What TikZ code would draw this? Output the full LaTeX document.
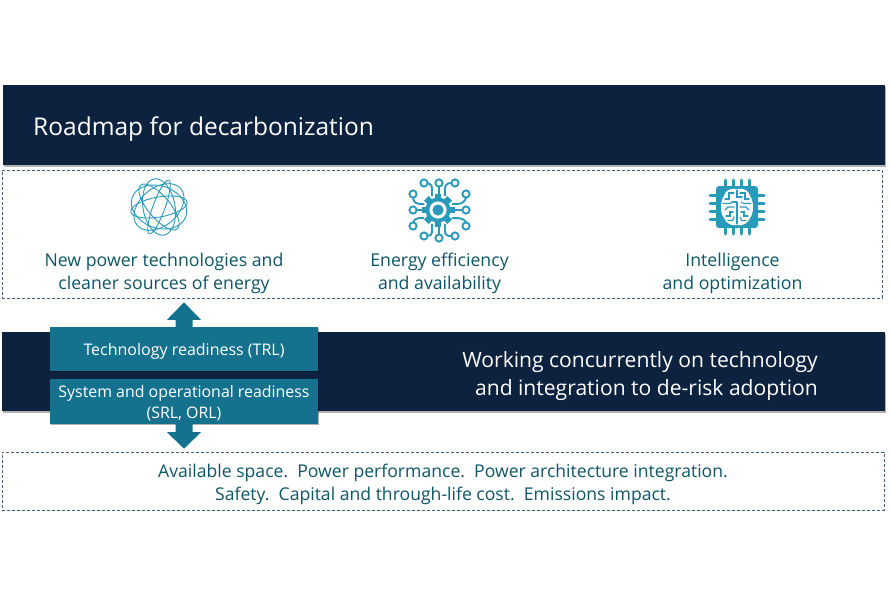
\documentclass[tikz,border=0pt]{standalone}
\usepackage{fontspec}
\setmainfont{Open Sans}
\usetikzlibrary{shadows,calc}
\definecolor{navy}{HTML}{0C223F}
\definecolor{tealbox}{HTML}{14728F}
\definecolor{tealtext}{HTML}{0E5566}
\definecolor{iconc}{HTML}{2A9ABA}
\definecolor{dashc}{HTML}{3F5F7F}
\tikzset{
 x=1pt,y=-1pt,
 navybar/.style={fill=navy,draw=none,drop shadow={shadow xshift=0.8pt,shadow yshift=-1.6pt,opacity=.3,fill=black}},
 dashbox/.style={draw=dashc,densely dashed,line width=.5pt},
 tealrect/.style={fill=tealbox,draw=none,drop shadow={shadow xshift=1.2pt,shadow yshift=-1.2pt,opacity=.3,fill=black}},
 bodytext/.style={text=tealtext,font=\fontsize{17.7pt}{23pt}\selectfont,align=center,inner sep=0pt},
 whitetext/.style={text=white,inner sep=0pt},
 ring/.style={draw=iconc,line width=1.9pt,fill=white},
 wire/.style={draw=iconc,line width=1.9pt},
 brainline/.style={draw=iconc,line width=1.1pt,line cap=round},
 globeline/.style={draw=iconc,line width=.9pt},
 pin/.style={draw=iconc,line width=3pt,line cap=round},
}
\begin{document}
\begin{tikzpicture}
\useasboundingbox (0,0) rectangle (890,592);
\fill[white] (0,0) rectangle (890,592);
% bars
\path[navybar] (3,85) rectangle (885,165);
\node[whitetext,anchor=base west,font=\fontsize{24.5pt}{28pt}\selectfont] (title) at (33,135) {Roadmap for decarbonization};
\node[dashbox,minimum width=880pt,minimum height=128pt,inner sep=0pt] (topbox) at (442,234) {};
\path[navybar] (2,332) rectangle (885,411);
\node[whitetext,align=right,anchor=east,font=\fontsize{21.1pt}{28pt}\selectfont] (work) at (818,376) {Working concurrently on technology\\and integration to de-risk adoption};
\node[dashbox,minimum width=882pt,minimum height=58pt,inner sep=0pt] (botbox) at (443,481) {};
% teal boxes
\node[tealrect,minimum width=268pt,minimum height=44pt,inner sep=0pt] (trl) at (184,349) {};
\node[tealrect,minimum width=268pt,minimum height=45pt,inner sep=0pt] (srl) at (184,401.5) {};
\node[whitetext,font=\fontsize{16pt}{21pt}\selectfont] (trltext) at (184,351) {Technology readiness (TRL)};
\node[whitetext,align=center,font=\fontsize{15.9pt}{21pt}\selectfont] (srltext) at (184,403.5) {System and operational readiness\\(SRL, ORL)};
\path[fill=tealbox] (trl.north) ++(-8.5,0.5) -- ++(0,-7.5) -- ++(-8.5,0) -- ++(17,-17.5) -- ++(17,17.5) -- ++(-8.5,0) -- ++(0,7.5) -- cycle;
\path[fill=tealbox] (srl.south) ++(-8.5,-0.5) -- ++(0,8.5) -- ++(-8.5,0) -- ++(17,16.5) -- ++(17,-16.5) -- ++(-8.5,0) -- ++(0,-8.5) -- cycle;
% texts
\node[bodytext] (t1) at (164,273.5) {New power technologies and\\cleaner sources of energy};
\node[bodytext] (t2) at (439.5,273.5) {Energy efficiency\\and availability};
\node[bodytext] (t3) at (732.5,273.5) {Intelligence\\and optimization};
\node[bodytext,font=\fontsize{17.6pt}{23pt}\selectfont] (t4) at (443,484.5) {Available space.~~Power performance.~~Power architecture integration.\\Safety.~~Capital and through-life cost.~~Emissions impact.};
% globe icon
\begin{scope}[shift={(159,207)}]
 \foreach \a/\r in {10/10,40/19,70/6,100/16,130/11,160/21}{
  \draw[globeline,rotate=\a] (0,0) ellipse (28.5 and \r);
 }
\end{scope}
% gear icon
\begin{scope}[shift={(438,210)}]
 \draw[wire,line join=round] (-6,-14) -- (-6,-21) .. controls (-6,-25) and (-8,-27) .. (-11,-27);
 \draw[wire] (1,-14) -- (1,-23);
 \draw[wire] (7,-14) -- (7,-21) .. controls (7,-25) and (9,-27) .. (13,-27);
 \draw[wire] (-6,14) -- (-6,21) .. controls (-6,25) and (-8,26) .. (-11,26);
 \draw[wire] (1,14) -- (1,24);
 \draw[wire] (7,14) -- (7,21) .. controls (7,25) and (9,26) .. (13,26);
 \draw[wire] (-14,-6) -- (-19,-6) .. controls (-22,-6) and (-24,-8) .. (-25,-12);
 \draw[wire] (-14,0) -- (-22,0);
 \draw[wire] (-14,8) -- (-19,8) .. controls (-22,8) and (-24,10) .. (-25,12);
 \draw[wire] (14,-6) -- (19,-6) .. controls (23,-6) and (27,-8) .. (28,-12);
 \draw[wire] (14,0) -- (24,0);
 \draw[wire] (14,8) -- (19,8) .. controls (23,8) and (27,10) .. (28,12);
 \foreach \p in {(-14,-27),(1,-27),(17,-27),(-25,-16),(-25,0),(-25,16),(28,-16),(28,0),(28,16),(-14,26),(1,28),(17,26)}{
  \draw[ring] \p circle (3.6);
 }
 \fill[iconc] (0,0) circle (12.5);
 \foreach \a in {0,45,...,315}{
  \fill[iconc,rotate=\a] (-3.2,-16.5) rectangle (3.2,-10);
 }
 \fill[white] (0,0) circle (8.6);
 \fill[iconc] (0,0) circle (5.6);
\end{scope}
% chip icon
\begin{scope}[shift={(737,207)}]
 \foreach \v in {-12,-4,4,12}{
  \draw[pin] (\v,-27) -- (\v,-18);
  \draw[pin] (\v,27) -- (\v,18);
  \draw[pin] (-27,\v) -- (-18,\v);
  \draw[pin] (27,\v) -- (18,\v);
 }
 \fill[iconc,rounded corners=3pt] (-21,-21) rectangle (21,21);
 \fill[white] (-1,-18) .. controls (-9,-19) and (-12,-15) .. (-13,-11) .. controls (-17,-6) and (-17,6) .. (-13,11) .. controls (-11,16) and (-6,19) .. (-1,18) -- (1,18) .. controls (6,19) and (11,16) .. (13,11) .. controls (17,6) and (17,-6) .. (13,-11) .. controls (12,-15) and (9,-19) .. (1,-18) -- cycle;
 \draw[brainline] (0,-17) -- (0,-10) -- (5,-10) (0,-5) -- (-5,-5) (0,-5) -- (0,17);
 \foreach \s in {1,-1}{
  \begin{scope}[xscale=\s]
  \draw[brainline] (3,-14) -- (8,-14) -- (8,-8) -- (12,-8);
  \draw[brainline] (4,-5) -- (7,-3.5) -- (14,-3.5);
  \draw[brainline] (3,0) -- (9,0) -- (12,3);
  \draw[brainline] (4,5) -- (7,5) -- (7,9) -- (11,9);
  \draw[brainline] (3,10) -- (4.5,13.5) -- (9,13.5);
  \end{scope}
 }
\end{scope}
\end{tikzpicture}
\end{document}
